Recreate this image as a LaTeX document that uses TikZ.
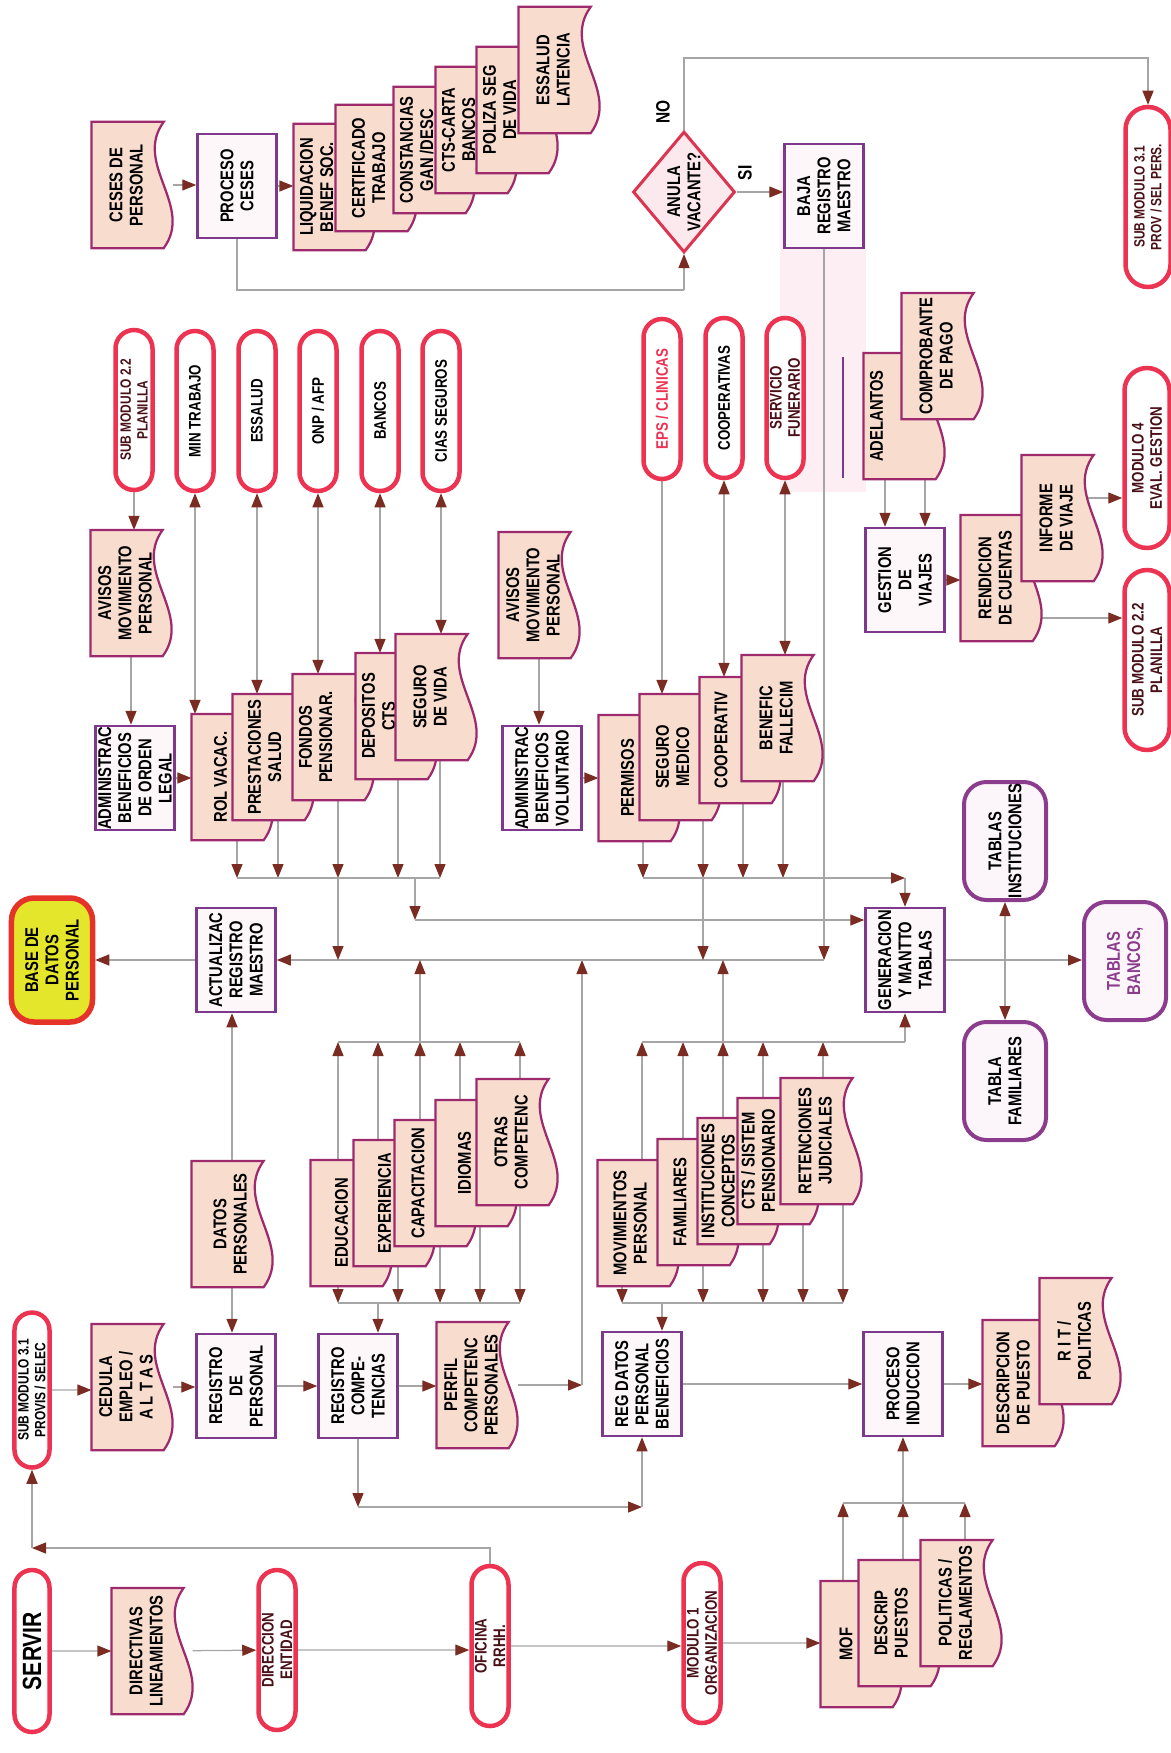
\documentclass[tikz,border=0pt]{standalone}
\usepackage{fontspec}
\newfontfamily\diafont{Liberation Sans}[FakeStretch=0.8]
\usetikzlibrary{arrows.meta,shapes.geometric,shapes.misc}
\definecolor{DocFill}{HTML}{F8DDCF}
\definecolor{DocLine}{HTML}{9E2A6E}
\definecolor{ProcLine}{HTML}{7D3A8C}
\definecolor{ProcFill}{HTML}{FDF7FA}
\definecolor{OvalRed}{HTML}{EC3452}
\definecolor{TabLine}{HTML}{8C3C8C}
\definecolor{TabFill}{HTML}{FCF6FB}
\definecolor{BaseYellow}{HTML}{E4E62C}
\definecolor{BaseRed}{HTML}{E63329}
\definecolor{LineGrey}{HTML}{A6A6A6}
\definecolor{TipRed}{HTML}{7A2C22}
\definecolor{DiaLine}{HTML}{DC3550}
\definecolor{DiaFill}{HTML}{FBE9EE}
\definecolor{PinkBg}{HTML}{FCEEF2}
\definecolor{DarkText}{HTML}{4A1018}
\pgfdeclarelayer{background}
\pgfsetlayers{background,main}

% document symbol: rectangle with a wavy lower edge
\makeatletter
\pgfdeclareshape{docshape}{
  \inheritsavedanchors[from=rectangle]
  \inheritanchorborder[from=rectangle]
  \inheritanchor[from=rectangle]{center}
  \inheritanchor[from=rectangle]{north}
  \inheritanchor[from=rectangle]{south}
  \inheritanchor[from=rectangle]{east}
  \inheritanchor[from=rectangle]{west}
  \inheritanchor[from=rectangle]{north east}
  \inheritanchor[from=rectangle]{north west}
  \inheritanchor[from=rectangle]{south east}
  \inheritanchor[from=rectangle]{south west}
  \backgroundpath{%
    \southwest \edef\dc@xa{\the\pgf@x}\edef\dc@ya{\the\pgf@y}%
    \northeast \edef\dc@xb{\the\pgf@x}\edef\dc@yb{\the\pgf@y}%
    \pgf@yc=\dc@yb \advance\pgf@yc by-\dc@ya
    \pgf@yc=0.11\pgf@yc
    \pgf@xc=\dc@xb \advance\pgf@xc by-\dc@xa
    \pgf@xc=0.3333\pgf@xc
    \edef\dc@yk{\the\dimexpr\dc@ya+\pgf@yc\relax}%
    \edef\dc@yh{\the\dimexpr\dc@ya+\pgf@yc+\pgf@yc*346/100\relax}%
    \edef\dc@yl{\the\dimexpr\dc@ya+\pgf@yc-\pgf@yc*346/100\relax}%
    \edef\dc@xr{\the\dimexpr\dc@xb-\pgf@xc\relax}%
    \edef\dc@xl{\the\dimexpr\dc@xa+\pgf@xc\relax}%
    \pgfpathmoveto{\pgfqpoint{\dc@xa}{\dc@yb}}%
    \pgfpathlineto{\pgfqpoint{\dc@xb}{\dc@yb}}%
    \pgfpathlineto{\pgfqpoint{\dc@xb}{\dc@yk}}%
    \pgfpathcurveto{\pgfqpoint{\dc@xr}{\dc@yh}}{\pgfqpoint{\dc@xl}{\dc@yl}}{\pgfqpoint{\dc@xa}{\dc@yk}}%
    \pgfpathclose
  }
}
\makeatother

\tikzset{
  doc/.style={docshape, draw=DocLine, line width=0.45mm, fill=DocFill,
    minimum width=24.8mm, minimum height=15.8mm, text depth=2.4mm},
  sdoc/.style={doc, text depth=7mm},
  proc/.style={rectangle, draw=ProcLine, line width=0.5mm, fill=ProcFill,
    minimum width=20.8mm, minimum height=15.8mm},
  term/.style={rounded rectangle, draw=OvalRed, line width=0.9mm, fill=white,
    minimum width=32mm, minimum height=7.4mm,
    font=\diafont\bfseries\fontsize{9.5}{10.5}\selectfont},
  big/.style={minimum width=36mm, minimum height=9mm},
  smalltext/.style={font=\diafont\bfseries\fontsize{8.5}{9.5}\selectfont},
  tabla/.style={rectangle, rounded corners=4.5mm, draw=TabLine, line width=0.8mm, fill=TabFill,
    minimum width=23.6mm, minimum height=16.4mm},
  diam/.style={diamond, aspect=1.2, draw=DiaLine, line width=0.6mm, fill=DiaFill,
    minimum width=24.2mm, minimum height=20.4mm},
  dark/.style={text=DarkText},
  lbl/.style={font=\diafont\bfseries\fontsize{11}{12}\selectfont},
  conn/.style={draw=LineGrey, line width=0.25mm, >={Triangle[length=2.8mm,width=2.2mm,color=TipRed]}}
}

\begin{document}
\begin{tikzpicture}[
  x=0.2mm, y=-0.2mm,
  every node/.style={rotate=90, align=center, inner sep=0pt,
    font=\diafont\bfseries\fontsize{10.5}{11.5}\selectfont}
]
\useasboundingbox (0,0) rectangle (1171,1753);

\begin{pgfonlayer}{background}
\fill[PinkBg] (780,150) rectangle (866,492);
\draw[ProcLine, line width=0.5mm] (843,357) -- (843,478);
\end{pgfonlayer}

% ceses
\node[doc] (ceses) at (132,185) {CESES DE\\PERSONAL};
\node[proc] (procceses) at (237,186) {PROCESO\\CESES};
\node[sdoc] (liq) at (334,187) {LIQUIDACION\\BENEF SOC.};
\node[sdoc, text depth=3mm] (cert) at (376,168) {CERTIFICADO\\TRABAJO};
\node[sdoc] (const) at (434,150) {CONSTANCIAS\\GAN /DESC};
\node[sdoc] (ctscarta) at (476,130) {CTS-CARTA\\BANCOS};
\node[sdoc] (poliza) at (517,110) {POLIZA SEG\\DE VIDA};
\node[doc] (essalat) at (559,70) {ESSALUD\\LATENCIA};
\node[diam] (anula) at (684,192) {ANULA\\VACANTE?};
\node[lbl] (no) at (663,112) {NO};
\node[lbl] (si) at (745,173) {SI};
\node[proc] (baja) at (824,196) {BAJA\\REGISTRO\\MAESTRO};
\node[term, big, dark, smalltext] (submod31b) at (1148,197) {SUB MODULO 3.1\\PROV / SEL PERS.};

% entidades externas
\node[term, dark, smalltext] (submod22a) at (134,410) {SUB MODULO 2.2\\PLANILLA};
\node[term] (mintrab) at (195,411) {MIN TRABAJO};
\node[term] (essalud) at (257,411) {ESSALUD};
\node[term] (onp) at (318,411) {ONP / AFP};
\node[term] (bancos) at (380,411) {BANCOS};
\node[term] (cias) at (441,411) {CIAS SEGUROS};
\node[term, text=OvalRed] (eps) at (662,399) {EPS / CLINICAS};
\node[term] (coopera) at (724,398) {COOPERATIVAS};
\node[term, dark] (funer) at (785,398) {SERVICIO\\FUNERARIO};

% beneficios
\node[doc] (avisos1) at (131,593) {AVISOS\\MOVIMIENTO\\PERSONAL};
\node[proc] (admlegal) at (135,778) {ADMINISTRAC\\BENEFICIOS\\DE ORDEN\\LEGAL};
\node[sdoc, text depth=4.6mm] (rol) at (232,777) {ROL VACAC.};
\node[sdoc, text depth=3.4mm] (prest) at (273,757) {PRESTACIONES\\SALUD};
\node[sdoc] (fondos) at (333,737) {FONDOS\\PENSIONAR.};
\node[sdoc] (depos) at (396,716) {DEPOSITOS\\CTS};
\node[doc] (segvida) at (436,697) {SEGURO\\DE VIDA};
\node[doc] (avisos2) at (539,595) {AVISOS\\MOVIMIENTO\\PERSONAL};
\node[proc] (admvol) at (542,778) {ADMINISTRAC\\BENEFICIOS\\VOLUNTARIO};
\node[sdoc, text depth=4.6mm] (permisos) at (639,778) {PERMISOS};
\node[sdoc, text depth=3mm] (segmed) at (680,757) {SEGURO\\MEDICO};
\node[sdoc, text depth=7.6mm] (cooperativ) at (740,740) {COOPERATIV};
\node[doc] (benef) at (782,718) {BENEFIC\\FALLECIM};

% viajes
\node[sdoc, text depth=11mm] (adelantos) at (904,416) {ADELANTOS};
\node[doc] (comprob) at (942,356) {COMPROBANTE\\DE PAGO};
\node[proc] (gestion) at (905,580) {GESTION\\DE\\VIAJES};
\node[doc] (rendic) at (1001,578) {RENDICION\\DE CUENTAS};
\node[doc] (informe) at (1062,518) {INFORME\\DE VIAJE};
\node[term, big, dark] (modulo4) at (1147,458) {MODULO 4\\EVAL. GESTION};
\node[term, big, dark] (submod22b) at (1147,660) {SUB MODULO 2.2\\PLANILLA};

% registro maestro y tablas
\node[tabla, fill=BaseYellow, draw=BaseRed, line width=1.1mm, minimum width=24.8mm, minimum height=16.2mm] (base) at (52,960) {BASE DE\\DATOS\\PERSONAL};
\node[proc] (actualiz) at (236,960) {ACTUALIZAC\\REGISTRO\\MAESTRO};
\node[proc] (generacion) at (905,960) {GENERACION\\Y MANTTO\\TABLAS};
\node[tabla] (tinst) at (1005,841) {TABLAS\\INSTITUCIONES};
\node[tabla] (tfam) at (1005,1081) {TABLA\\FAMILIARES};
\node[tabla, text=TabLine] (tbancos) at (1125,961) {TABLAS\\BANCOS,};

% competencias y datos
\node[doc, text depth=0.8mm] (datospers) at (232,1224) {DATOS\\PERSONALES};
\node[sdoc, text depth=3.8mm] (educ) at (351,1223) {EDUCACION};
\node[sdoc, text depth=3.8mm] (exper) at (394,1203) {EXPERIENCIA};
\node[sdoc, text depth=6.8mm] (capac) at (435,1183) {CAPACITACION};
\node[sdoc, text depth=4.6mm] (idiomas) at (476,1163) {IDIOMAS};
\node[doc] (otras) at (517,1142) {OTRAS\\COMPETENC};
\node[sdoc, text depth=3.2mm] (movim) at (638,1223) {MOVIMIENTOS\\PERSONAL};
\node[sdoc, text depth=7.2mm] (famil) at (698,1202) {FAMILIARES};
\node[sdoc, text depth=8mm] (instit) at (738,1181) {INSTITUCIONES\\CONCEPTOS};
\node[sdoc, text depth=8mm] (ctssist) at (778,1161) {CTS / SISTEM\\PENSIONARIO};
\node[doc] (retenc) at (821,1141) {RETENCIONES\\JUDICIALES};

% altas
\node[term, smalltext, minimum width=31mm, minimum height=7mm] (submod31a) at (32,1390) {SUB MODULO 3.1\\PROVIS / SELEC};
\node[doc] (cedula) at (132,1387) {CEDULA\\EMPLEO /\\A L T A S};
\node[proc] (regpers) at (236,1386) {REGISTRO\\DE\\PERSONAL};
\node[proc] (regcomp) at (358,1386) {REGISTRO\\COMPE-\\TENCIAS};
\node[doc] (perfil) at (477,1385) {PERFIL\\COMPETENC\\PERSONALES};
\node[proc] (regdatos) at (642,1384) {REG DATOS\\PERSONAL\\BENEFICIOS};
\node[proc] (induccion) at (903,1384) {PROCESO\\INDUCCION};
\node[sdoc, text depth=4mm] (descpuesto) at (1023,1383) {DESCRIPCION\\DE PUESTO};
\node[doc] (rit) at (1080,1341) {R I T /\\POLITICAS};

% organizacion
\node[term, minimum width=32.4mm, minimum height=7mm, font=\diafont\bfseries\fontsize{15}{16}\selectfont] (servir) at (32,1651) {SERVIR};
\node[doc] (directivas) at (152,1651) {DIRECTIVAS\\LINEAMIENTOS};
\node[term, dark] (direccion) at (277,1650) {DIRECCION\\ENTIDAD};
\node[term, dark] (oficina) at (490,1646) {OFICINA\\RRHH.};
\node[term, dark] (modulo1) at (702,1643) {MODULO 1\\ORGANIZACION};
\node[sdoc, text depth=6mm] (mof) at (861,1644) {MOF};
\node[sdoc, text depth=3.2mm] (descrip) at (899,1623) {DESCRIP\\PUESTOS};
\node[doc] (politicas) at (961,1603) {POLITICAS /\\REGLAMENTOS};

\coordinate (kof) at (32,1548);
\coordinate (kb) at (0,878);
\coordinate (k920) at (415,920);
\coordinate (ktop) at (0,1042);
\coordinate (kbot) at (0,1303);
\coordinate (kreg) at (0,1507);
\coordinate (kind) at (0,1503);
\coordinate (kces) at (0,290);
\coordinate (kno) at (1148,58);
\coordinate (kperf) at (582,1385);

\begin{pgfonlayer}{background}
% organizacion y altas
\draw[conn,->] (servir) -- (directivas);
\draw[conn,->] (directivas) -- (direccion);
\draw[conn,->] (direccion) -- (direccion -| oficina.north);
\draw[conn,->] (oficina) -- (oficina -| modulo1.north);
\draw[conn,->] (modulo1) -- (modulo1 -| mof.north);
\draw[conn,->] (oficina.east) |- (kof);
\draw[conn,->] (kof) -- (submod31a.west);
\draw[conn,->] (submod31a) -- (submod31a -| cedula.north);
\draw[conn,->] (cedula) -- (cedula -| regpers.north);
\draw[conn,->] (regpers) -- (regpers -| regcomp.north);
\draw[conn,->] (regcomp) -- (regcomp -| perfil.north);
\draw[conn,->] (perfil) -- (kperf);
\draw[conn,->] (kperf) -- (kperf |- actualiz);
\draw[conn,->] (regcomp.west) -- (regcomp.west |- kreg);
\draw[conn,->] (regcomp.west |- kreg) -- (regdatos.west |- kreg);
\draw[conn,->] (regdatos.west |- kreg) -- (regdatos.west);
\draw[conn,->] (regdatos) -- (regdatos -| induccion.north);
\draw[conn,->] (induccion) -- (induccion -| descpuesto.north);
\foreach \nm/\xx in {mof/843, descrip/903, politicas/965}
  \draw[conn,->] (\nm.east -| \xx,0) -- (\xx,0 |- kind);
\draw[conn] (843,0 |- kind) -- (965,0 |- kind);
\draw[conn,->] (induccion.west |- kind) -- (induccion.west);
\draw[conn,->] (datospers.east) -- (datospers.east |- actualiz.west);
\draw[conn,->] (datospers.west) -- (datospers.west |- regpers.east);
\draw[conn,->] (actualiz) -- (base);

% ceses
\draw[conn,->] (ceses) -- (ceses -| procceses.north);
\draw[conn,->] (procceses) -- (procceses -| liq.north);
\draw[conn] (procceses.west) -- (procceses.west |- kces) -- (anula.west |- kces);
\draw[conn,->] (anula.west |- kces) -- (anula.west);
\draw[conn,->] (anula.east) |- (kno) -- (submod31b.east);
\draw[conn,->] (anula.south) -- (anula.south -| baja.north);
\draw[conn,->] (baja.west) -- (baja.west |- actualiz);
\draw[conn,->] (baja.west |- actualiz) -- (actualiz);

% beneficios de orden legal
\draw[conn,->] (submod22a.west) -- (submod22a.west |- avisos1.east);
\draw[conn,->] (avisos1.west) -- (avisos1.west |- admlegal.east);
\draw[conn,->] (admlegal) -- (admlegal -| rol.north);
\foreach \ov/\nm in {mintrab/rol, essalud/prest, onp/fondos, bancos/depos, cias/segvida}
  \draw[conn,<->] (\ov.west) -- (\ov.west |- \nm.east);
\foreach \nm/\xx in {rol/237, prest/278, fondos/338, depos/398, segvida/440}
  \draw[conn,->] (\nm.west -| \xx,0) -- (\xx,0 |- kb);
\draw[conn] (237,0 |- kb) -- (440,0 |- kb);
\draw[conn,->] (338,0 |- kb) -- (338,0 |- actualiz);
\draw[conn,->] (k920 |- kb) -- (k920);
\draw[conn,->] (k920) -- (k920 -| generacion.north);

% beneficios voluntarios
\draw[conn,->] (avisos2.west) -- (avisos2.west |- admvol.east);
\draw[conn,->] (admvol) -- (admvol -| permisos.north);
\draw[conn,->] (eps.west) -- (eps.west |- segmed.east);
\draw[conn,<->] (coopera.west) -- (coopera.west |- cooperativ.east);
\draw[conn,<->] (funer.west) -- (funer.west |- benef.east);
\foreach \nm/\xx in {permisos/643, segmed/703, cooperativ/743, benef/783}
  \draw[conn,->] (\nm.west -| \xx,0) -- (\xx,0 |- kb);
\draw[conn,->] (643,0 |- kb) -- (generacion.east |- kb);
\draw[conn,->] (generacion.east |- kb) -- (generacion.east);
\draw[conn,->] (703,0 |- kb) -- (703,0 |- actualiz);

% competencias
\foreach \nm/\xx in {educ/338, exper/378, capac/420, idiomas/460, otras/520}
  \draw[conn,->] (\nm.east -| \xx,0) -- (\xx,0 |- ktop);
\draw[conn] (338,0 |- ktop) -- (520,0 |- ktop);
\draw[conn,->] (420,0 |- ktop) -- (420,0 |- actualiz);
\foreach \nm/\xx in {educ/338, exper/398, capac/440, idiomas/480, otras/520}
  \draw[conn,->] (\nm.west -| \xx,0) -- (\xx,0 |- kbot);
\draw[conn] (338,0 |- kbot) -- (520,0 |- kbot);
\draw[conn,->] (378,0 |- kbot) -- (378,0 |- regcomp.east);

% datos del personal
\foreach \nm/\xx in {movim/642, famil/683, instit/723, ctssist/763, retenc/823}
  \draw[conn,->] (\nm.east -| \xx,0) -- (\xx,0 |- ktop);
\draw[conn] (642,0 |- ktop) -- (generacion.west |- ktop);
\draw[conn,->] (generacion.west |- ktop) -- (generacion.west);
\draw[conn,->] (723,0 |- ktop) -- (723,0 |- actualiz);
\foreach \nm/\xx in {movim/622, famil/703, instit/763, ctssist/803, retenc/843}
  \draw[conn,->] (\nm.west -| \xx,0) -- (\xx,0 |- kbot);
\draw[conn] (622,0 |- kbot) -- (843,0 |- kbot);
\draw[conn,->] (662,0 |- kbot) -- (662,0 |- regdatos.east);

% tablas
\draw[conn,->] (generacion) -- (generacion -| tbancos.north);
\draw[conn,<->] (tinst) -- (tfam);

% viajes
\draw[conn,->] (adelantos.west -| 885,0) -- (885,0 |- gestion.east);
\draw[conn,->] (comprob.west -| 925,0) -- (925,0 |- gestion.east);
\draw[conn,->] (gestion) -- (gestion -| rendic.north);
\draw[conn,->] (informe.center |- 0,498) -- (0,498 -| modulo4.north);
\draw[conn,->] (rendic.center |- 0,618) -- (0,618 -| submod22b.north);
\end{pgfonlayer}
\end{tikzpicture}
\end{document}
